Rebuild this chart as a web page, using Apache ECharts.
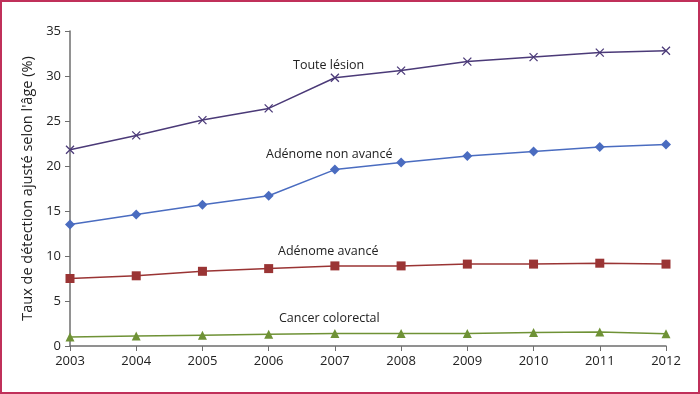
<!DOCTYPE html>
<html><head><meta charset="utf-8">
<script src="https://cdn.jsdelivr.net/npm/echarts@6/dist/echarts.min.js"></script>
<style>html,body{margin:0;padding:0;background:#fff}#c{width:700px;height:394px;box-sizing:border-box;border:2px solid #c0305a}</style>
</head><body><div id="c"></div>
<script>
const years = ['2003','2004','2005','2006','2007','2008','2009','2010','2011','2012'];
const touteLesion = [21.8,23.4,25.1,26.4,29.8,30.6,31.6,32.1,32.6,32.8];
const adenomeNonAvance = [13.5,14.6,15.7,16.7,19.6,20.4,21.1,21.6,22.1,22.4];
const adenomeAvance = [7.5,7.8,8.3,8.6,8.9,8.9,9.1,9.1,9.2,9.1];
const cancerColorectal = [1.0,1.1,1.2,1.3,1.4,1.4,1.4,1.5,1.55,1.35];
const seriesNames = ['Toute lésion','Adénome non avancé','Adénome avancé','Cancer colorectal'];
const yTicks = [0,5,10,15,20,25,30,35];

const font = '"Open Sans", "Noto Sans", sans-serif';
const chart = echarts.init(document.getElementById('c'));
function mk(name, data, color, symbol, size, extra) {
  return Object.assign({
    name, type:'line', data, symbol, symbolSize:size,
    lineStyle:{color, width:1.5}, itemStyle:{color},
    emphasis:{disabled:true}, animation:false
  }, extra||{});
}
chart.setOption({
  animation:false,
  textStyle:{fontFamily:font},
  grid:{left:68,right:32,top:29,bottom:46},
  xAxis:{type:'category', data:years, boundaryGap:false,
    axisLine:{lineStyle:{color:'#6e6e6e', width:1.5}},
    axisTick:{alignWithLabel:true, length:5, lineStyle:{color:'#6e6e6e'}},
    axisLabel:{color:'#222', fontSize:13, margin:9, fontFamily:font}},
  yAxis:{type:'value', min:yTicks[0], max:yTicks[yTicks.length-1], interval:5,
    name:'Taux de détection ajusté selon l\'âge (%)', nameLocation:'middle', nameGap:33,
    nameTextStyle:{color:'#222', fontSize:14.5, fontFamily:font},
    splitLine:{show:false},
    axisLine:{show:true, lineStyle:{color:'#6e6e6e', width:1.5}},
    axisTick:{show:true, length:5, lineStyle:{color:'#6e6e6e'}},
    axisLabel:{color:'#222', fontSize:13, margin:9, fontFamily:font}},
  series:[
    mk(seriesNames[0], touteLesion, '#4b3a78', 'path://M0,0L1,1M1,0L0,1', 8,
       {itemStyle:{color:'none', borderColor:'#4b3a78', borderWidth:1.3}}),
    mk(seriesNames[1], adenomeNonAvance, '#4a6cc0', 'diamond', 10),
    mk(seriesNames[2], adenomeAvance, '#9a3434', 'rect', 9),
    mk(seriesNames[3], cancerColorectal, '#6f9236', 'triangle', 9)
  ],
  graphic:[
    {type:'text', left:291, top:57, style:{text:seriesNames[0], font:'12.5px '+font, fill:'#222'}},
    {type:'text', left:264, top:146, style:{text:seriesNames[1], font:'12.5px '+font, fill:'#222'}},
    {type:'text', left:276, top:243, style:{text:seriesNames[2], font:'12.5px '+font, fill:'#222'}},
    {type:'text', left:277, top:310, style:{text:seriesNames[3], font:'12.5px '+font, fill:'#222'}}
  ]
});
</script></body></html>
